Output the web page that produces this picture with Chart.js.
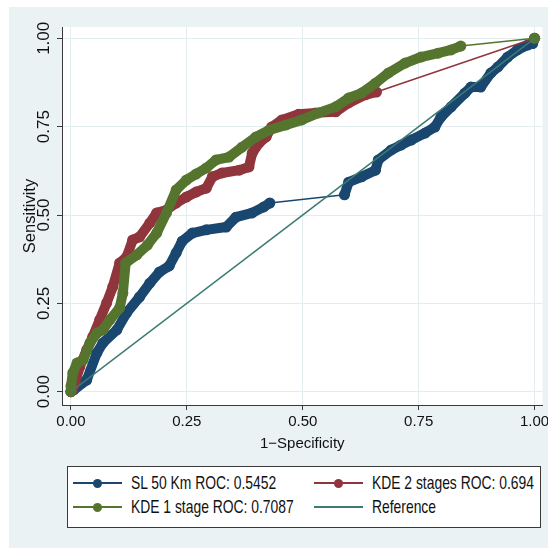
<!DOCTYPE html>
<html>
<head>
<meta charset="utf-8">
<script src="https://cdn.jsdelivr.net/npm/chart.js@4.4.1/dist/chart.umd.min.js"></script>
<style>
  html, body { margin: 0; padding: 0; background: #fff; }
  #wrap { position: relative; width: 548px; height: 548px; }
  #legend {
    position: absolute; left: 67px; top: 466px; width: 472px; height: 60px;
    border: 1px solid #3a3a3a; background: #fff;
    font-family: "Liberation Sans", Arial, sans-serif;
    font-size: 19px; color: #111;
  }
  .item { position: absolute; height: 20px; display: flex; align-items: center; white-space: nowrap; }
  .sym { position: relative; flex: none; width: 49px; height: 20px; margin-right: 9px; }
  .sym i { position: absolute; left: 0; right: 0; top: 9px; height: 2px; }
  .sym b { position: absolute; left: 20px; top: 6px; width: 9px; height: 9px; border-radius: 50%; }
  .txt { display: inline-block; transform: scaleX(0.73); transform-origin: left center; }
</style>
</head>
<body>
<div id="wrap">
  <canvas id="roc" width="548" height="548"></canvas>
  <div id="legend"></div>
</div>
<script>
// ---------- DATA ----------
const seriesNames = ["SL 50 Km ROC: 0.5452", "KDE 2 stages ROC: 0.694", "KDE 1 stage ROC: 0.7087", "Reference"];
const seriesColors = ["#1a476f", "#90353b", "#55752f", "#3b7b72"];
const tickValues = [0, 0.25, 0.5, 0.75, 1];

const slFpr = [0, 0.006, 0.034, 0.056, 0.069, 0.099, 0.120, 0.148, 0.170, 0.191, 0.212, 0.227, 0.240, 0.262, 0.292, 0.335, 0.356, 0.391, 0.416, 0.429, 0.590, 0.599, 0.627, 0.657, 0.663, 0.691, 0.712, 0.734, 0.764, 0.785, 0.798, 0.820, 0.850, 0.863, 0.884, 0.906, 0.921, 0.942, 0.963, 0.985, 0.996, 1];
const slTpr = [0, 0.005, 0.033, 0.110, 0.138, 0.175, 0.223, 0.268, 0.307, 0.339, 0.356, 0.393, 0.426, 0.449, 0.458, 0.466, 0.494, 0.506, 0.523, 0.534, 0.557, 0.593, 0.608, 0.627, 0.656, 0.684, 0.698, 0.712, 0.732, 0.749, 0.777, 0.806, 0.845, 0.862, 0.862, 0.902, 0.919, 0.947, 0.967, 0.981, 0.985, 1];

const kde2Fpr = [0, 0.004, 0.019, 0.034, 0.047, 0.062, 0.077, 0.090, 0.105, 0.120, 0.133, 0.148, 0.170, 0.185, 0.206, 0.227, 0.249, 0.270, 0.292, 0.305, 0.326, 0.363, 0.384, 0.391, 0.406, 0.421, 0.433, 0.455, 0.491, 0.528, 0.571, 0.599, 0.635, 0.659, 1];
const kde2Tpr = [0, 0.005, 0.070, 0.118, 0.155, 0.203, 0.251, 0.296, 0.364, 0.381, 0.429, 0.438, 0.477, 0.506, 0.514, 0.534, 0.551, 0.565, 0.576, 0.608, 0.619, 0.627, 0.636, 0.675, 0.704, 0.721, 0.749, 0.769, 0.785, 0.789, 0.792, 0.817, 0.840, 0.848, 1];

const kde1Fpr = [0, 0, 0.004, 0.013, 0.026, 0.041, 0.056, 0.069, 0.084, 0.105, 0.112, 0.118, 0.142, 0.165, 0.185, 0.206, 0.227, 0.249, 0.270, 0.292, 0.313, 0.341, 0.369, 0.399, 0.427, 0.464, 0.498, 0.534, 0.571, 0.599, 0.627, 0.657, 0.685, 0.721, 0.755, 0.792, 0.820, 0.841, 1];
const kde1Tpr = [0, 0.016, 0.053, 0.081, 0.090, 0.138, 0.166, 0.175, 0.203, 0.237, 0.279, 0.364, 0.387, 0.415, 0.449, 0.506, 0.571, 0.599, 0.616, 0.633, 0.656, 0.664, 0.692, 0.721, 0.740, 0.755, 0.769, 0.789, 0.806, 0.831, 0.845, 0.873, 0.902, 0.930, 0.947, 0.958, 0.967, 0.978, 1];

const refX = [0, 1];
const refY = [0, 1];

// ---------- HELPERS ----------
const FONT = '"Liberation Sans", Arial, sans-serif';
const pts = (xs, ys) => xs.map((x, i) => ({ x: x, y: ys[i] }));

// overlapping markers look like a thick band; long jumps are thin connectors
const bandWidth = ctx => (ctx.p1.parsed.x - ctx.p0.parsed.x > 0.1 ? 1.5 : 10);

function rocSet(i, xs, ys, order) {
  return {
    label: seriesNames[i],
    data: pts(xs, ys),
    borderColor: seriesColors[i],
    backgroundColor: seriesColors[i],
    pointBackgroundColor: seriesColors[i],
    pointRadius: 5.5,
    pointBorderWidth: 0,
    borderWidth: 10,
    borderCapStyle: "round",
    borderJoinStyle: "round",
    segment: { borderWidth: bandWidth },
    order: order
  };
}

const noOverflow = s => { s.paddingLeft = 0; s.paddingRight = 0; s.paddingTop = 0; s.paddingBottom = 0; };

const bg = {
  id: "bg",
  beforeDraw(chart) {
    const { ctx, chartArea: a } = chart;
    ctx.save();
    ctx.fillStyle = "#fff";
    ctx.fillRect(0, 0, chart.width, chart.height);
    ctx.fillStyle = "#eaf2f3";
    ctx.fillRect(9, 7, chart.width - 9, chart.height - 7);
    ctx.fillStyle = "#fff";
    ctx.fillRect(a.left, a.top, a.right - a.left, a.bottom - a.top);
    ctx.restore();
  }
};

// ---------- CHART ----------
new Chart(document.getElementById("roc"), {
  type: "line",
  data: {
    datasets: [
      rocSet(0, slFpr, slTpr, 4),
      rocSet(1, kde2Fpr, kde2Tpr, 3),
      rocSet(2, kde1Fpr, kde1Tpr, 2),
      {
        label: seriesNames[3],
        data: pts(refX, refY),
        borderColor: seriesColors[3],
        borderWidth: 1.5,
        pointRadius: 0,
        order: 1
      }
    ]
  },
  options: {
    responsive: false,
    animation: false,
    devicePixelRatio: 1,
    layout: { padding: { left: 0, top: 27, right: 3, bottom: 88 } },
    plugins: { legend: { display: false }, tooltip: { enabled: false } },
    scales: {
      x: {
        type: "linear",
        min: -0.0193,
        max: 1.0172,
        afterBuildTicks: s => { s.ticks = tickValues.map(v => ({ value: v })); },
        afterFit: s => { s.height = 55; noOverflow(s); },
        grid: { color: "#e3ecef", tickColor: "#3a3a3a", tickLength: 5 },
        border: { color: "#3a3a3a", width: 1 },
        ticks: { color: "#111", font: { family: FONT, size: 15 }, padding: 3, maxRotation: 0, callback: v => v.toFixed(2) },
        title: { display: true, text: "1\u2212Specificity", color: "#111", font: { family: FONT, size: 15 }, padding: { top: 0, bottom: 7 } }
      },
      y: {
        type: "linear",
        min: -0.0376,
        max: 1.032,
        afterBuildTicks: s => { s.ticks = tickValues.map(v => ({ value: v })); },
        afterFit: s => { s.width = 62; noOverflow(s); },
        grid: { color: "#e3ecef", tickColor: "#3a3a3a", tickLength: 5 },
        border: { color: "#3a3a3a", width: 1 },
        ticks: { color: "#111", font: { family: FONT, size: 17 }, padding: -4, minRotation: 90, maxRotation: 90, crossAlign: "center", callback: v => v.toFixed(2) },
        title: { display: true, text: "Sensitivity", color: "#111", font: { family: FONT, size: 16.5 }, padding: { top: 21, bottom: 0 } }
      }
    }
  },
  plugins: [bg]
});

// ---------- LEGEND ----------
const legendPos = [[5, 6], [246, 6], [5, 30], [246, 30]];
const legend = document.getElementById("legend");
seriesNames.forEach((name, i) => {
  const d = document.createElement("div");
  d.className = "item";
  d.style.left = legendPos[i][0] + "px";
  d.style.top = legendPos[i][1] + "px";
  const marker = i < 3 ? `<b style="background:${seriesColors[i]}"></b>` : "";
  d.innerHTML = `<span class="sym"><i style="background:${seriesColors[i]}"></i>${marker}</span><span class="txt">${name}</span>`;
  legend.appendChild(d);
});
</script>
</body>
</html>
